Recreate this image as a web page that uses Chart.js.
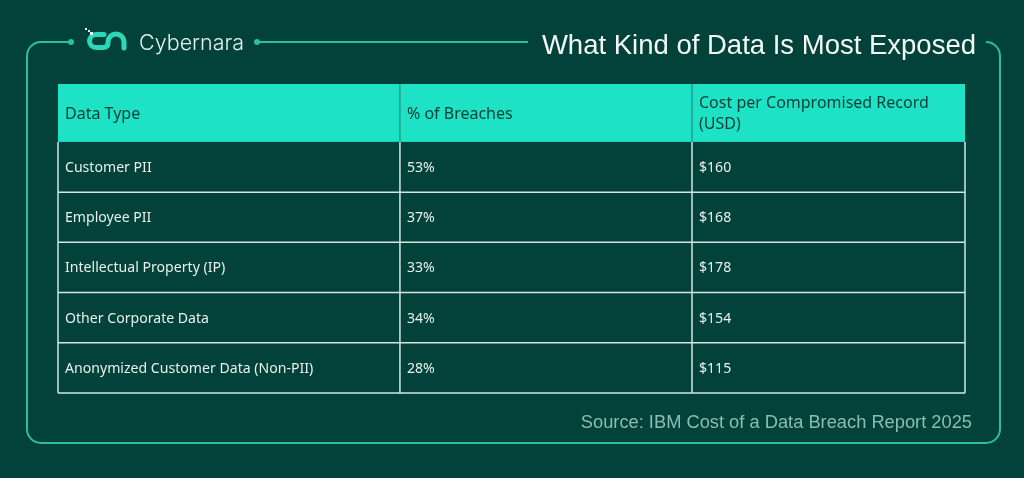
<!DOCTYPE html>
<html>
<head>
<meta charset="utf-8">
<script src="https://cdn.jsdelivr.net/npm/chart.js@4.4.1/dist/chart.umd.min.js"></script>
<style>
  html, body { margin: 0; padding: 0; background: #03423a; }
  #wrap { position: relative; width: 1024px; height: 478px; }
</style>
</head>
<body>
<div id="wrap"><canvas id="myChart"></canvas></div>
<script>
// table content
var columns = ['Data Type', '% of Breaches', 'Cost per Compromised Record|(USD)'];
var dataTypes = ['Customer PII', 'Employee PII', 'Intellectual Property (IP)', 'Other Corporate Data', 'Anonymized Customer Data (Non-PII)'];
var breachShare = [53, 37, 33, 34, 28];
var costPerRecord = [160, 168, 178, 154, 115];

// layout in scale units (x: percent of table width, y: row units)
var colEdges = [0, 37.7, 69.9, 100];
var headerH = 58, rowH = 50.3;

var rows = dataTypes.map(function(t, i) {
	return [t, breachShare[i] + '%', '$' + costPerRecord[i]];
});

var tablePlugin = {
	id: 'table',
	beforeDraw: function(chart) {
		var c = chart.ctx;
		c.save();
		// outer frame
		c.strokeStyle = '#2cbf9e';
		c.lineWidth = 2;
		c.beginPath();
		c.moveTo(71, 42);
		c.lineTo(41, 42);
		c.arcTo(27, 42, 27, 56, 14);
		c.lineTo(27, 429);
		c.arcTo(27, 443, 41, 443, 14);
		c.lineTo(986, 443);
		c.arcTo(1000, 443, 1000, 429, 14);
		c.lineTo(1000, 56);
		c.arcTo(1000, 42, 986, 42, 14);
		c.stroke();
		c.beginPath();
		c.moveTo(257, 42);
		c.lineTo(528, 42);
		c.stroke();
		c.fillStyle = '#2cbf9e';
		[71, 257].forEach(function(x) {
			c.beginPath();
			c.arc(x, 42, 3, 0, Math.PI * 2);
			c.fill();
		});
		// logo
		c.strokeStyle = '#2ad9b8';
		c.lineWidth = 5;
		c.lineCap = 'round';
		c.beginPath();
		c.moveTo(104, 34.5);
		c.lineTo(96, 34.5);
		c.arc(96, 41, 6.5, -Math.PI / 2, Math.PI / 2, true);
		c.lineTo(103, 47.5);
		c.quadraticCurveTo(108, 47.5, 108, 43);
		c.lineTo(108, 42);
		c.arc(116, 42, 8, Math.PI, 0);
		c.lineTo(124, 48);
		c.stroke();
		c.fillStyle = '#e8f4f0';
		c.fillRect(85, 28, 2, 2);
		c.fillRect(88, 30, 2, 2);
		c.fillRect(90, 32, 3, 3);
		// texts
		c.textBaseline = 'alphabetic';
		c.fillStyle = '#e4f0ec';
		c.font = '300 21.5px Inter';
		c.fillText('Cybernara', 139, 50);
		c.fillStyle = '#f4f8f6';
		c.font = '27.5px "Liberation Sans"';
		c.textAlign = 'right';
		c.fillText('What Kind of Data Is Most Exposed', 976, 54);
		c.fillStyle = '#8dbcb0';
		c.font = '18.3px "Liberation Sans"';
		c.fillText('Source: IBM Cost of a Data Breach Report 2025', 972, 428);
		c.restore();
	},
	afterDatasetsDraw: function(chart) {
		var c = chart.ctx;
		var x = chart.scales.x, y = chart.scales.y;
		var xs = colEdges.map(function(v) { return x.getPixelForValue(v); });
		var yEdges = [0, headerH];
		rows.forEach(function(r, i) { yEdges.push(headerH + rowH * (i + 1)); });
		var ys = yEdges.map(function(v) { return y.getPixelForValue(v); });
		c.save();
		// header
		c.fillStyle = '#1de2c5';
		c.fillRect(xs[0], ys[0], xs[3] - xs[0], ys[1] - ys[0]);
		c.strokeStyle = '#2b7d6c';
		c.lineWidth = 1;
		c.beginPath();
		[1, 2].forEach(function(j) {
			c.moveTo(xs[j], ys[0]);
			c.lineTo(xs[j], ys[1]);
		});
		c.stroke();
		c.fillStyle = '#0d3d35';
		c.font = '16px "Noto Sans"';
		c.textBaseline = 'middle';
		columns.forEach(function(h, j) {
			var lines = h.split('|');
			var mid = (ys[0] + ys[1]) / 2;
			lines.forEach(function(l, k) {
				c.fillText(l, xs[j] + 7, mid + (k - (lines.length - 1) / 2) * 21 + 1);
			});
		});
		// body grid
		c.strokeStyle = '#d3e6e1';
		c.lineWidth = 1.5;
		c.beginPath();
		for (var i = 2; i < ys.length; i++) {
			c.moveTo(xs[0], ys[i]);
			c.lineTo(xs[3], ys[i]);
		}
		xs.forEach(function(px) {
			c.moveTo(px, ys[1]);
			c.lineTo(px, ys[ys.length - 1]);
		});
		c.stroke();
		// body text
		c.fillStyle = '#e6f0ed';
		c.font = '14.1px "Noto Sans"';
		rows.forEach(function(r, i) {
			var mid = (ys[i + 1] + ys[i + 2]) / 2;
			r.forEach(function(t, j) {
				c.fillText(t, xs[j] + 7, mid + 1);
			});
		});
		c.restore();
	}
};

var ctx = document.getElementById('myChart');
var myChart = new Chart(ctx, {
	type: 'scatter',
	data: { datasets: [{ data: [] }] },
	options: {
		responsive: true,
		maintainAspectRatio: false,
		animation: false,
		events: [],
		layout: { padding: { left: 58, right: 59, top: 84, bottom: 85 } },
		plugins: { legend: { display: false }, tooltip: { enabled: false } },
		scales: {
			x: { type: 'linear', min: 0, max: 100, display: false },
			y: { type: 'linear', min: 0, max: headerH + rowH * dataTypes.length, reverse: true, display: false }
		}
	},
	plugins: [tablePlugin]
});
</script>
</body>
</html>
